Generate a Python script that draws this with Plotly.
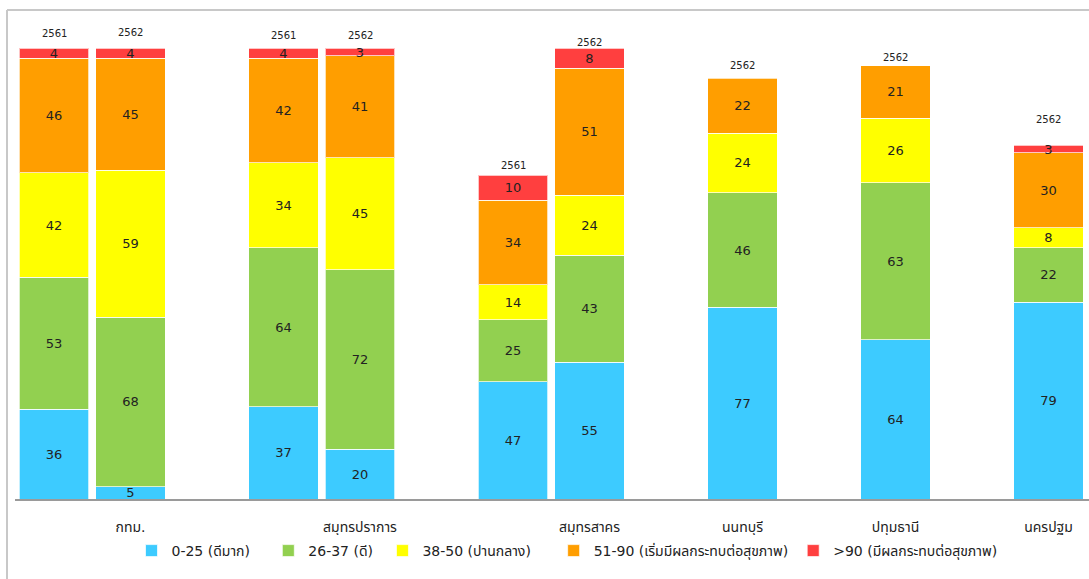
import plotly.graph_objects as go

# ---------------- data ----------------
provinces = ["กทม.", "กทม.", "สมุทรปราการ", "สมุทรปราการ", "สมุทรสาคร", "สมุทรสาคร",
             "นนทบุรี", "ปทุมธานี", "นครปฐม"]
years = ["2561", "2562", "2561", "2562", "2561", "2562", "2562", "2562", "2562"]

v_0_25 = [36, 5, 37, 20, 47, 55, 77, 64, 79]
v_26_37 = [53, 68, 64, 72, 25, 43, 46, 63, 22]
v_38_50 = [42, 59, 34, 45, 14, 24, 24, 26, 8]
v_51_90 = [46, 45, 42, 41, 34, 51, 22, 21, 30]
v_90 = [4, 4, 4, 3, 10, 8, None, None, 3]

series_names = ["0-25 (ดีมาก)", "26-37 (ดี)", "38-50 (ปานกลาง)",
                "51-90 (เริ่มมีผลกระทบต่อสุขภาพ)", ">90 (มีผลกระทบต่อสุขภาพ)"]
series_values = [v_0_25, v_26_37, v_38_50, v_51_90, v_90]

# ---------------- styles ----------------
colors = ["#3DCBFF", "#92D050", "#FFFF00", "#FF9E00", "#FF3F3F"]
year_label_shift = [15, 16, 13, 13, 10, 6, 13, 8, 26]
legend_pad = ["\u00a0\u00a0\u00a0", "\u00a0", "\u00a0\u00a0\u00a0\u00a0", "", ""]
FONT = "DejaVu Sans, Tahoma, Noto Sans Thai, sans-serif"

# slot positions: consecutive bars in a province group, one empty slot between groups
xpos = []
pos = 0
for i, p in enumerate(provinces):
    if i > 0:
        pos += 1 if p == provinces[i - 1] else 2
    xpos.append(pos)

# tick labels under the last bar of each province group
tickvals, ticktext = [], []
for i, p in enumerate(provinces):
    if i == len(provinces) - 1 or provinces[i + 1] != p:
        tickvals.append(xpos[i])
        ticktext.append(p)

fig = go.Figure()
for name, vals, col, pad in zip(series_names, series_values, colors, legend_pad):
    fig.add_trace(go.Bar(
        x=xpos, y=vals, name=name + pad,
        marker=dict(color=col, line=dict(color="rgba(255,255,255,0.7)", width=1)),
        text=[("" if v is None else str(v)) for v in vals],
        textposition="inside", insidetextanchor="middle",
        textangle=0, constraintext="none",
        textfont=dict(family=FONT, size=13, color="#222222"),
        cliponaxis=False,
        width=0.91,
        hoverinfo="skip",
    ))

totals = [sum(v for v in col if v is not None) for col in zip(*series_values)]
for x, t, yr, sh in zip(xpos, totals, years, year_label_shift):
    fig.add_annotation(x=x, y=t, text=yr, showarrow=False, yshift=sh,
                       yanchor="middle", font=dict(family=FONT, size=10, color="#222222"))

L, T, B = 15, 26, 80
W, H = 1089, 579
pw, ph = W - L, H - T - B
# frame lines (left and top of chart border)
fig.add_shape(type="line", xref="paper", yref="paper",
              x0=(7 - L) / pw, x1=1.1, y0=(H - B - 10) / ph, y1=(H - B - 10) / ph,
              line=dict(color="#C8C8C8", width=2))
fig.add_shape(type="line", xref="paper", yref="paper",
              x0=(7 - L) / pw, x1=(7 - L) / pw, y0=(H - B - 10) / ph, y1=-0.3,
              line=dict(color="#C8C8C8", width=2))

slot_px = 76.5
x0 = -(54 - L) / slot_px
fig.update_layout(
    barmode="stack",
    width=W, height=H,
    margin=dict(l=L, r=0, t=T, b=B),
    plot_bgcolor="white", paper_bgcolor="white",
    font=dict(family=FONT, size=13, color="#222222"),
    xaxis=dict(range=[x0, x0 + pw / slot_px], tickvals=tickvals, ticktext=ticktext,
               showgrid=False, zeroline=False, showline=True, linecolor="#9A9A9A",
               linewidth=1.5, ticks="", ticklabelstandoff=14,
               tickfont=dict(family=FONT, size=14, color="#222222")),
    yaxis=dict(range=[0, 190], visible=False, showgrid=False, zeroline=False),
    legend=dict(orientation="h", x=(567 - L) / pw, xanchor="center",
                y=-(551 - (H - B)) / ph, yanchor="middle",
                font=dict(family=FONT, size=14, color="#222222"),
                traceorder="normal", itemwidth=30),
    showlegend=True,
)

fig.write_html("out.html", config={"displayModeBar": False},
               post_script="document.body.style.margin='0';")
